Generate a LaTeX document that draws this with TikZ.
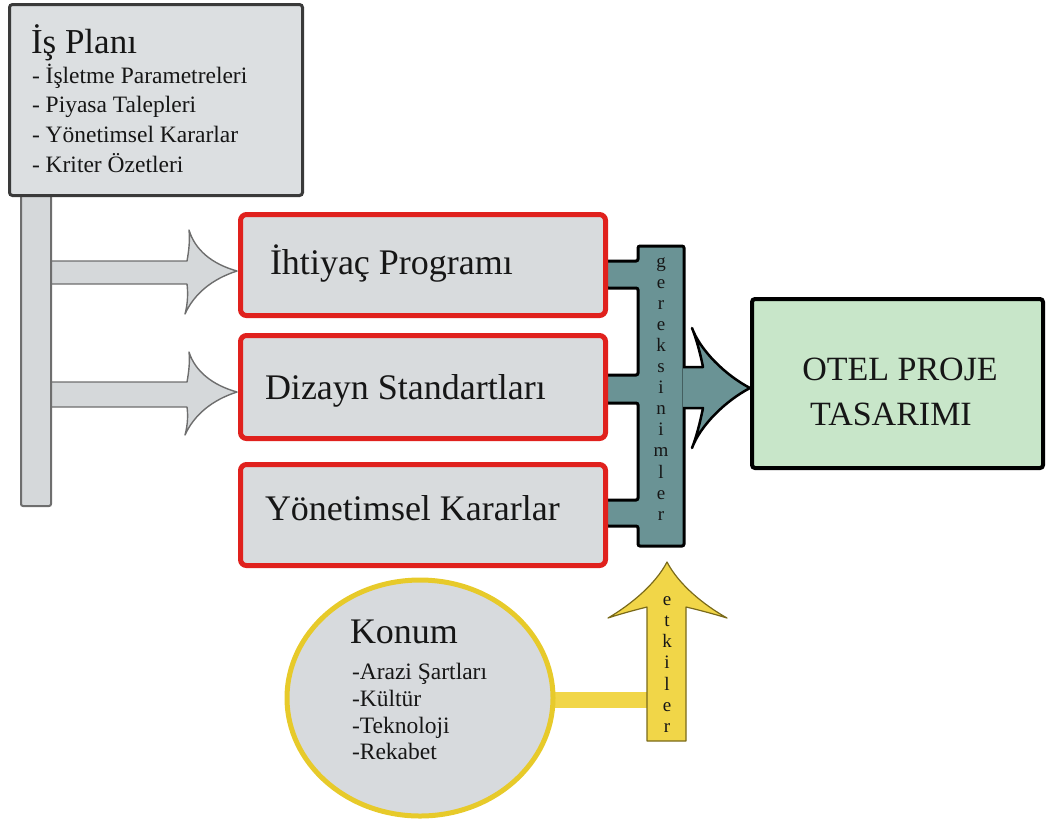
\documentclass[tikz,border=0pt]{standalone}
\usepackage{fontspec}
\setmainfont{Liberation Serif}
\usetikzlibrary{shapes.geometric}
\newcommand\fsz[1]{\fontsize{#1}{#1}\selectfont}
\definecolor{planfill}{HTML}{DCDFE1}
\definecolor{planedge}{HTML}{3A3A3A}
\definecolor{barfill}{HTML}{D5D8DA}
\definecolor{baredge}{HTML}{6E6E6E}
\definecolor{needfill}{HTML}{D8DBDD}
\definecolor{neededge}{HTML}{E0211D}
\definecolor{teal}{HTML}{6A9395}
\definecolor{otelfill}{HTML}{C8E6C9}
\definecolor{yel}{HTML}{F1D648}
\definecolor{yeledge}{HTML}{E7CA2A}
\definecolor{yeldark}{HTML}{7A6A1A}
\definecolor{konumfill}{HTML}{D7DADD}
\definecolor{ink}{HTML}{161616}
\begin{document}
\begin{tikzpicture}[x=1pt,y=-1pt,
  every node/.style={inner sep=0pt, outer sep=0pt, text=ink},
  planbox/.style={draw=planedge, fill=planfill, line width=3pt, rounded corners=3pt,
    minimum width=293pt, minimum height=191pt},
  needbox/.style={draw=neededge, fill=needfill, line width=5pt, rounded corners=6pt,
    minimum width=365pt, minimum height=101pt},
  otelbox/.style={draw=black, fill=otelfill, line width=4pt, rounded corners=3pt,
    minimum width=291pt, minimum height=169pt},
  konumcircle/.style={ellipse, draw=yeledge, fill=konumfill, line width=5pt,
    minimum width=266pt, minimum height=236pt},
  grayarrow/.style={draw=baredge, line width=1.4pt, line join=round},
  letter/.style={font=\fsz{19}, anchor=base},
  bigtxt/.style={font=\fsz{36}, anchor=base west},
  smalltxt/.style={font=\fsz{23.5}, anchor=base west}]
\useasboundingbox (0,0) rectangle (1046,823);

% grey feed arrows from the business-plan post
\fill[barfill] (50,261) -- (187,261) .. controls (189,250) and (190,240) .. (189,230)
  .. controls (195,250) and (212,264) .. (237,271)
  .. controls (212,279) and (194,294) .. (185,314)
  .. controls (188,303) and (188,292) .. (187,284) -- (50,284) -- cycle;
\draw[grayarrow] (50,261) -- (187,261) .. controls (189,250) and (190,240) .. (189,230)
  .. controls (195,250) and (212,264) .. (237,271)
  .. controls (212,279) and (194,294) .. (185,314)
  .. controls (188,303) and (188,292) .. (187,284) -- (50,284);
\fill[barfill] (50,382) -- (187,382) .. controls (189,371) and (190,361) .. (189,352)
  .. controls (195,371) and (212,385) .. (237,392)
  .. controls (212,400) and (194,415) .. (185,435)
  .. controls (188,424) and (188,414) .. (187,407) -- (50,407) -- cycle;
\draw[grayarrow] (50,382) -- (187,382) .. controls (189,371) and (190,361) .. (189,352)
  .. controls (195,371) and (212,385) .. (237,392)
  .. controls (212,400) and (194,415) .. (185,435)
  .. controls (188,424) and (188,414) .. (187,407) -- (50,407);

% post and business-plan box
\draw[draw=baredge, fill=barfill, line width=2pt, rounded corners=2pt]
  (21,190) rectangle (51,506);
\node[planbox] (plan) at (156,100) {};
\node[font=\fsz{35}, anchor=base west] (plantitle) at (31,53) {İş Planı};
\node[smalltxt] (p1) at (32,83) {- İşletme Parametreleri};
\node[smalltxt] (p2) at (32,112) {- Piyasa Talepleri};
\node[smalltxt] (p3) at (32,142) {- Yönetimsel Kararlar};
\node[smalltxt] (p4) at (32,172) {- Kriter Özetleri};

% requirements collector bar with its three tabs
\draw[draw=black, fill=teal, line width=3pt, rounded corners=2pt]
  (638,246) -- (684,246) -- (684,546) -- (638,546) -- (638,526) -- (606,526)
  -- (606,500) -- (638,500) -- (638,403) -- (606,403) -- (606,375) -- (638,375)
  -- (638,288) -- (606,288) -- (606,261) -- (638,261) -- cycle;
\foreach \c [count=\i from 0] in {g,e,r,e,k,s,i,n,i,m,l,e,r}
  \node[letter] (g\i) at (661,{267+21.1*\i}) {\c};

% the three requirement boxes
\node[needbox] (need1) at (423,265) {};
\node[needbox, minimum height=103pt] (need2) at (423,387) {};
\node[needbox] (need3) at (423,515) {};
\node[bigtxt] (t1) at (270,274) {İhtiyaç Programı};
\node[bigtxt] (t2) at (265,399) {Dizayn Standartları};
\node[bigtxt] (t3) at (265,520) {Yönetimsel Kararlar};

% big arrow into the project box
\draw[draw=black, fill=teal, line width=2.5pt, line join=round]
  (683,367) -- (703,367) .. controls (700,352) and (696,338) .. (692,328)
  .. controls (700,350) and (725,375) .. (750,388)
  .. controls (725,401) and (700,426) .. (692,448)
  .. controls (696,438) and (700,423) .. (703,408) -- (683,408);

% project box
\node[otelbox] (otel) at (897.5,383.5) {};
\node[font=\fsz{34}, anchor=base] (o1) at (900,380) {OTEL PROJE};
\node[font=\fsz{34}, anchor=base] (o2) at (891,425) {TASARIMI};

% location circle and its influence arrow
\fill[yel] (540,692) rectangle (648,708);
\node[konumcircle] (konum) at (420,698) {};
\node[font=\fsz{36}, anchor=base west] (ktitle) at (350,643) {Konum};
\node[smalltxt] (k1) at (352,679) {-Arazi Şartları};
\node[smalltxt] (k2) at (352,706) {-Kültür};
\node[smalltxt] (k3) at (352,733) {-Teknoloji};
\node[smalltxt] (k4) at (352,759) {-Rekabet};
\draw[draw=yeldark, fill=yel, line width=1.2pt, line join=round]
  (647,741) -- (647,607) .. controls (635,610) and (620,614) .. (608,618)
  .. controls (630,605) and (655,585) .. (667,562)
  .. controls (679,585) and (704,605) .. (727,618)
  .. controls (714,614) and (699,610) .. (686,607) -- (686,741) -- cycle;
\foreach \c [count=\i from 0] in {e,t,k,i,l,e,r}
  \node[letter] (e\i) at (667,{605+21.3*\i}) {\c};
\end{tikzpicture}
\end{document}
